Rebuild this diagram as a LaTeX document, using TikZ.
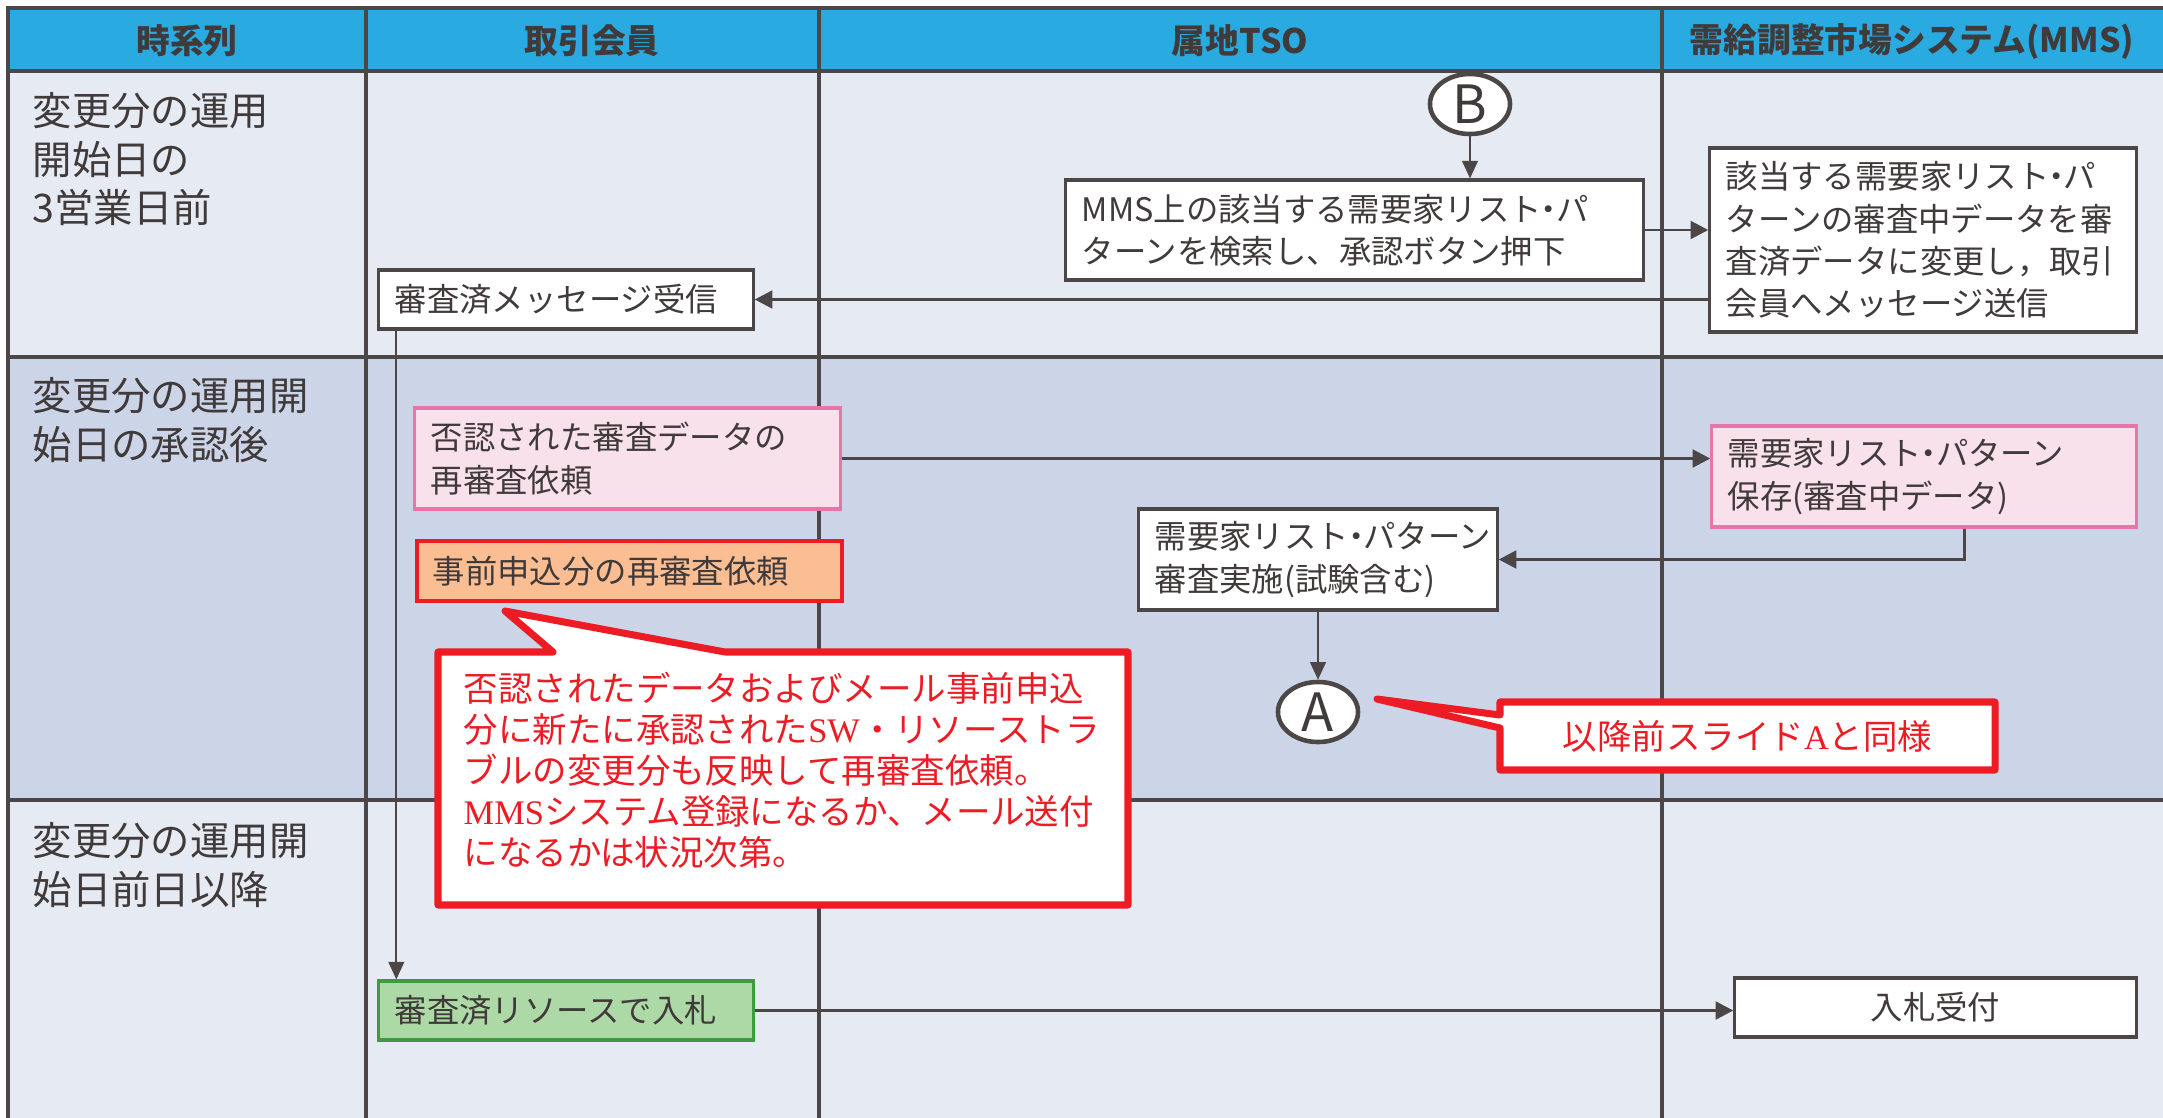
\documentclass[tikz,border=0pt]{standalone}
\usepackage{fontspec}
\setmainfont{Noto Sans CJK JP}
\newfontfamily\latserif{Liberation Serif}
\usetikzlibrary{
    positioning,
    arrows.meta,
    shapes.geometric
}

\definecolor{headblue}{RGB}{41,171,226}
\definecolor{rowlight}{RGB}{230,235,243}
\definecolor{rowdark}{RGB}{204,213,232}
\definecolor{linegray}{RGB}{77,70,70}
\definecolor{txtgray}{RGB}{64,58,58}
\definecolor{pinkfill}{RGB}{249,225,236}
\definecolor{pinkline}{RGB}{232,116,168}
\definecolor{orangefill}{RGB}{251,190,147}
\definecolor{calloutred}{RGB}{237,28,36}
\definecolor{greenfill}{RGB}{172,217,166}
\definecolor{greenline}{RGB}{62,155,62}

\newcommand{\headfont}{\fontsize{9.6}{11}\selectfont\bfseries}
\newcommand{\rowfont}{\fontsize{11.2}{13.8}\selectfont}
\newcommand{\boxfont}{\fontsize{9.2}{12}\selectfont}
\newcommand{\notefont}{\fontsize{9.8}{11.7}\selectfont}
\newcommand{\connfont}{\fontsize{15}{15}\selectfont}
% narrow middle dot as in the boxes
\newcommand{\nakadot}{\kern-0.28em・\kern-0.28em}

\begin{document}
\begin{tikzpicture}[
    x=0.01cm, y=-0.01cm,
    grid/.style={draw=linegray, line width=1.1pt},
    headtext/.style={font=\headfont, text=txtgray, inner sep=0},
    rowtext/.style={anchor=north west, align=left, inner sep=0,
        font=\rowfont, text=txtgray},
    plainbox/.style={
        rectangle, draw=linegray, line width=0.9pt, fill=white,
        align=left, inner xsep=0.16cm, inner ysep=0,
        font=\boxfont, text=txtgray
    },
    pinkbox/.style={plainbox, draw=pinkline, fill=pinkfill},
    orangebox/.style={plainbox, draw=calloutred, fill=orangefill, line width=1.1pt},
    greenbox/.style={plainbox, draw=greenline, fill=greenfill},
    connector/.style={
        ellipse, draw=linegray, line width=1.3pt, fill=white,
        minimum width=0.80cm, minimum height=0.60cm, inner sep=0,
        font=\connfont, text=txtgray
    },
    callout/.style={draw=calloutred, fill=white, line width=2pt, line join=round},
    callouttext/.style={font=\notefont, text=calloutred, align=left, inner sep=0},
    arr/.style={-{Triangle[length=5pt, width=5pt]}, draw=linegray, line width=0.85pt},
    thinarr/.style={-{Triangle[length=5pt, width=4.5pt]}, draw=linegray, line width=0.5pt}
]
\useasboundingbox (0,0) rectangle (2163,1118);

% Swimlane table
\fill[headblue] (8,8) rectangle (2163,71);
\fill[rowlight] (8,71) rectangle (2163,357);
\fill[rowdark] (8,357) rectangle (2163,800);
\fill[rowlight] (8,800) rectangle (2163,1118);
\draw[grid] (2163,8) -- (8,8) -- (8,1118);
\foreach \y in {71,357,800} \draw[grid] (8,\y) -- (2163,\y);
\foreach \x in {366,819,1662} \draw[grid] (\x,8) -- (\x,1118);

% Lane headers
\node[headtext] (hTime) at (187,41) {時系列};
\node[headtext] (hMember) at (592,41) {取引会員};
\node[headtext] (hTSO) at (1240,41) {属地TSO};
\node[headtext] (hMMS) at (1912,41) {需給調整市場システム(MMS)};

% Time rows
\node[rowtext] (rPre) at (32,92) {変更分の運用\\開始日の\\3営業日前};
\node[rowtext] (rApproved) at (32,377) {変更分の運用開\\始日の承認後};
\node[rowtext] (rAfter) at (32,822) {変更分の運用開\\始日前日以降};

% Steps
\node[connector] (connB) at (1470,104) {B};
\node[plainbox, text width=5.45cm, minimum height=1.00cm] (tsoSearch) at (1354.5,230)
    {MMS上の該当する需要家リスト\nakadot パ\\ターンを検索し、承認ボタン押下};
\node[plainbox, text width=3.94cm, minimum height=1.84cm] (mmsUpdate) at (1923,240)
    {該当する需要家リスト\nakadot パ\\ターンの審査中データを審\\査済データに変更し，取引\\会員へメッセージ送信};
\node[plainbox, text width=3.42cm, minimum height=0.59cm] (revMsg) at (566,299.5)
    {審査済メッセージ受信};

\node[pinkbox, text width=3.93cm, minimum height=1.01cm] (pinkReq) at (627.5,458.5)
    {否認された審査データの\\再審査依頼};
\node[orangebox, text width=3.93cm, minimum height=0.60cm] (orangeReq) at (629.5,571)
    {事前申込分の再審査依頼};
\node[pinkbox, text width=3.92cm, minimum height=1.01cm] (pinkSave) at (1924,476.5)
    {需要家リスト\nakadot パターン\\保存(審査中データ)};
\node[plainbox, text width=3.26cm, minimum height=1.01cm] (tsoReview) at (1318,559.5)
    {需要家リスト\nakadot パターン\\審査実施(試験含む)};
\node[connector] (connA) at (1318,712) {A};

\node[greenbox, text width=3.42cm, minimum height=0.59cm] (bid) at (566,1010.5)
    {審査済リソースで入札};
\node[plainbox, align=center, text width=3.69cm, minimum height=0.59cm] (bidRecv) at (1935.5,1007.5)
    {入札受付};

% Arrows
\draw[thinarr] (connB.south) -- (connB.south |- tsoSearch.north);
\draw[arr] (tsoSearch.east) -- (tsoSearch.east -| mmsUpdate.west);
\draw[arr] (revMsg.east -| mmsUpdate.west) -- (revMsg.east);
\draw[thinarr] ([xshift=0.19cm]revMsg.south west) -- ([xshift=0.19cm]bid.north west);
\draw[arr] (pinkReq.east) -- (pinkReq.east -| pinkSave.west);
\draw[arr] ([xshift=0.40cm]pinkSave.south) |- (tsoReview.east);
\draw[thinarr] (tsoReview.south) -- (connA.north);
\draw[arr] (bid.east) -- (bid.east -| bidRecv.west);

% Callouts
\filldraw[callout] (438,652) -- (553,652) -- (505,611) -- (725,652) -- (1128,652)
    -- (1128,905) -- (438,905) -- cycle;
\node[callouttext, anchor=north west] (noteResubmit) at (463,671)
    {否認されたデータおよびメール事前申込\\分に新たに承認された{\latserif SW}・リソーストラ\\ブルの変更分も反映して再審査依頼。\\{\latserif MMS}システム登録になるか、メール送付\\になるかは状況次第。};
\filldraw[callout] (1500,702) -- (1995,702) -- (1995,770) -- (1500,770) -- (1500,728)
    -- (1377,699) -- (1500,715) -- cycle;
\node[callouttext] (noteSame) at (1747.5,736) {以降前スライド{\latserif A}と同様};

\end{tikzpicture}
\end{document}
